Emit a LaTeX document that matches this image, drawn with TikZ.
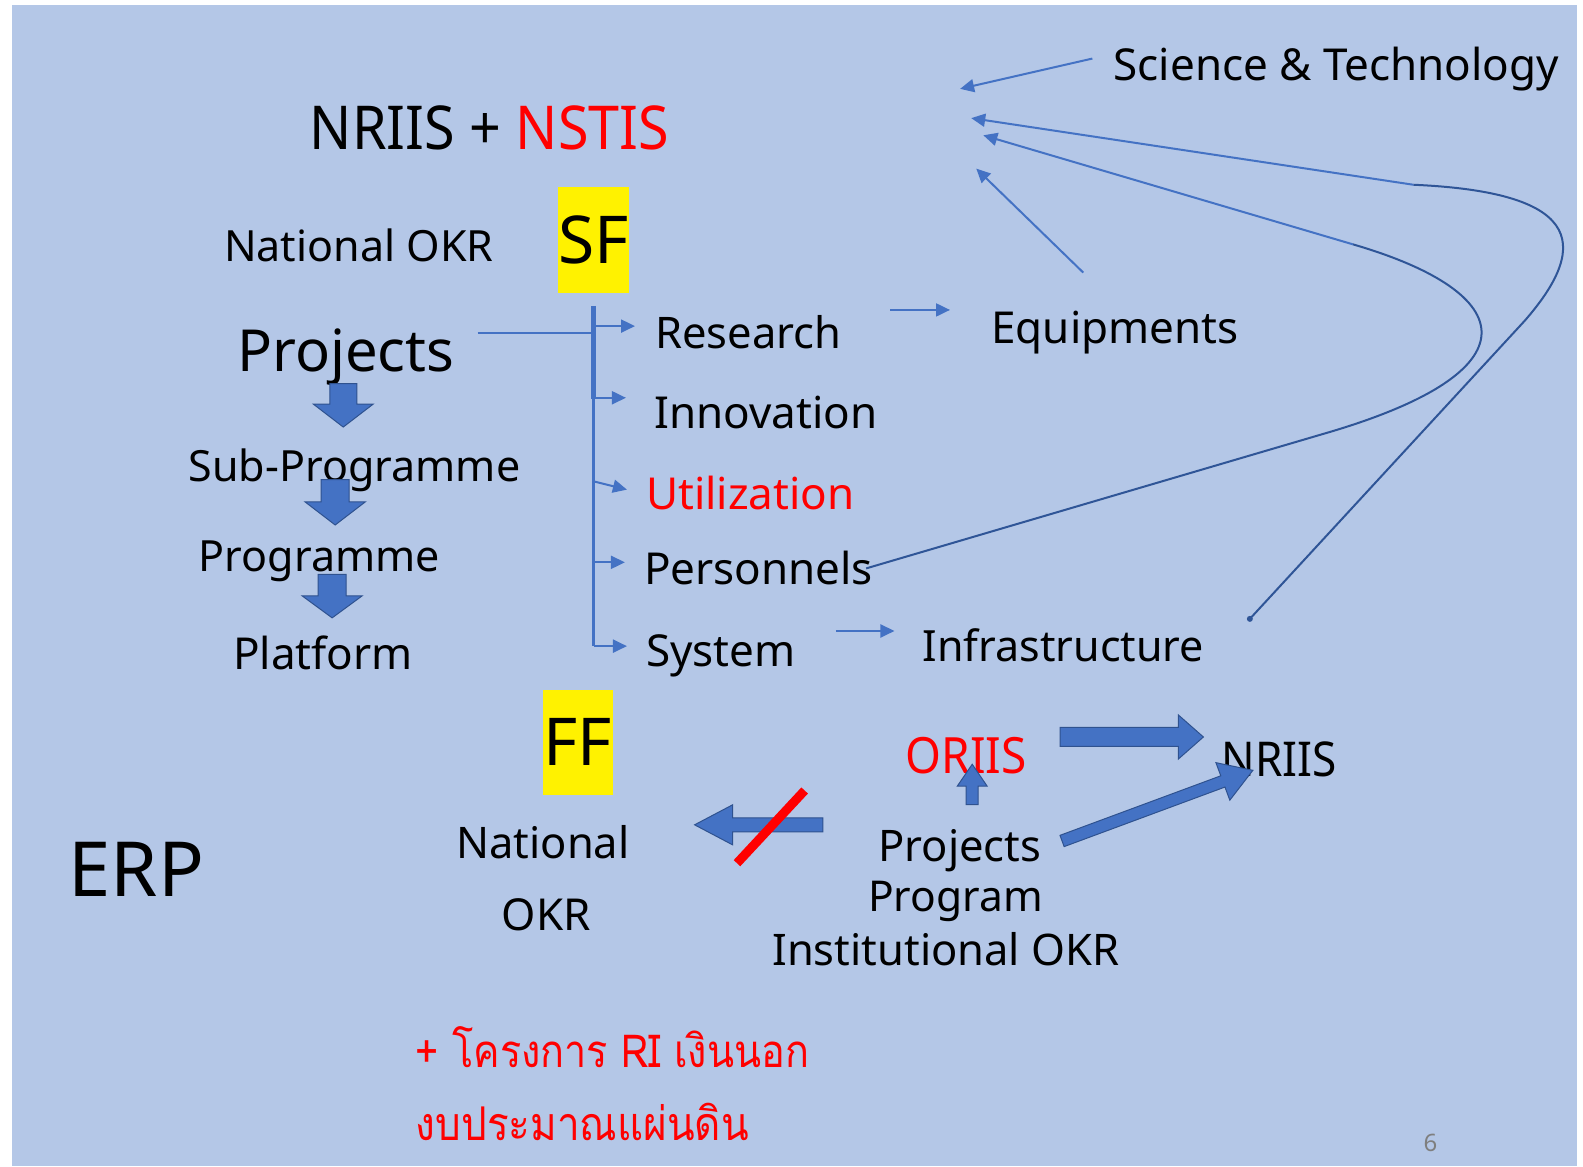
\documentclass[tikz,border=0pt]{standalone}
\usepackage{fontspec}
\setmainfont{Noto Sans}
\newfontfamily\narrowfont[FakeStretch=0.92]{Noto Sans}
\newfontfamily\thaifont[Script=Thai,FakeStretch=0.87]{Loma}
\usetikzlibrary{arrows.meta,calc}
\definecolor{bg}{HTML}{B4C7E7}
\definecolor{ablue}{HTML}{4472C4}
\definecolor{dblue}{HTML}{2F5597}
\definecolor{oblue}{HTML}{2F528F}
\definecolor{pnum}{HTML}{7F7F7F}
\newcommand\fs[1]{\fontsize{#1}{#1}\selectfont}
% block arrow: #1 tail, #2 tip, #3 shaft half width, #4 head half width, #5 head length
\newcommand\blockarrow[5]{%
  \coordinate (bh) at ($(#2)!#5!(#1)$);
  \path[blockarr] ($(#1)!#3!90:(#2)$) -- ($(bh)!#3!-90:(#1)$) -- ($(bh)!#4!-90:(#1)$) -- (#2)
     -- ($(bh)!#4!90:(#1)$) -- ($(bh)!#3!90:(#1)$) -- ($(#1)!#3!-90:(#2)$) -- cycle;}
\begin{document}
\begin{tikzpicture}[x=1.0096pt,y=-1.0096pt,
  txt/.style={anchor=base west, inner sep=0pt, outer sep=0pt},
  ybox/.style={fill=yellow, inner sep=0pt, text depth=0pt},
  thin/.style={draw=ablue, line width=2pt, -{Triangle[length=14pt,width=13pt]}},
  curv/.style={draw=dblue, line width=2pt},
  blockarr/.style={fill=ablue, draw=oblue, line width=1pt, line join=miter}]
\useasboundingbox (0,0) rectangle (1568,1155);
\fill[bg] (11.9,5) rectangle (1562,1155);

% ---- top texts
\node[txt, font=\narrowfont\fs{60.5}] (title) at (307,148) {NRIIS + \textcolor{red}{NSTIS}};
\node[txt, font=\fs{44}] (st) at (1103,80) {Science \& Technology};
\node[txt, font=\fs{43}] (nokr) at (222,259) {National OKR};
\node[ybox, minimum width=70.7pt, minimum height=106pt, font=\fs{66}] (sf) at (588,237.5) {SF};
\node[txt, font=\fs{58}] (proj) at (235,368) {Projects};
\node[txt, font=\fs{43}] (subp) at (187,477) {Sub-Programme};
\node[txt, font=\fs{43}] (prog) at (197,566) {Programme};
\node[txt, font=\fs{44}] (plat) at (231,663) {Platform};

\node[txt, font=\fs{43.5}] (res) at (649,345) {Research};
\node[txt, font=\fs{44}] (inn) at (648,424) {Innovation};
\node[txt, font=\fs{44}, text=red] (util) at (640,505) {Utilization};
\node[txt, font=\fs{44}] (pers) at (638,579) {Personnels};
\node[txt, font=\fs{44}] (sys) at (640,660) {System};
\node[txt, font=\fs{44}] (equip) at (982,340) {Equipments};
\node[txt, font=\fs{43}] (infra) at (914,655) {Infrastructure};

% ---- down block arrows
\coordinate (d1a) at (340,380); \coordinate (d1b) at (340,423);
\coordinate (d2a) at (332,475); \coordinate (d2b) at (332,520);
\coordinate (d3a) at (329,569); \coordinate (d3b) at (329,612);
\blockarrow{d1a}{d1b}{13.5pt}{30pt}{23pt}
\blockarrow{d2a}{d2b}{14pt}{30pt}{23pt}
\blockarrow{d3a}{d3b}{14pt}{30pt}{22pt}

% ---- bracket
\coordinate (btop) at (588,303);
\coordinate (bmid) at (588,395);
\coordinate (bbot) at (588,640);
\draw[ablue, line width=5pt] (btop) -- (bmid);
\draw[ablue, line width=3pt] (bmid) -- (bbot);
\coordinate (pl) at (473,330);
\coordinate (pr) at (590,330);
\draw[ablue, line width=1.5pt] (pl) -- (pr);
\coordinate (a1) at (588,323); \coordinate (a1t) at (629,323);
\coordinate (a2) at (588,394); \coordinate (a2t) at (620,394);
\coordinate (a3) at (589,477); \coordinate (a3t) at (621,485);
\coordinate (a4) at (588,557); \coordinate (a4t) at (619,557);
\coordinate (a5t) at (621,640);
\draw[thin] (a1) -- (a1t);
\draw[thin] (a2) -- (a2t);
\draw[thin] (a3) -- (a3t);
\draw[thin] (a4) -- (a4t);
\draw[thin] (bbot) -- (a5t);

% ---- small arrows to Equipments / Infrastructure
\coordinate (e1) at (882,307); \coordinate (e2) at (941,307);
\draw[thin] (e1) -- (e2);
\coordinate (i1) at (828,625); \coordinate (i2) at (886,625);
\draw[thin] (i1) -- (i2);

% ---- arrows to the top focus
\coordinate (s1) at (1082,58); \coordinate (s2) at (951,88);
\draw[thin] (s1) -- (s2);
\coordinate (q1) at (1073,270); \coordinate (q2) at (967,167);
\draw[thin] (q1) -- (q2);

% curve from Infrastructure
\coordinate (c1s) at (1238,613);
\coordinate (c1m) at (1400,183);
\coordinate (c1t) at (962,117);
\draw[curv] (c1s) -- (1510,318) .. controls (1580,238) and (1560,190) .. (c1m);
\draw[thin] (c1m) -- (c1t);
\fill[dblue] (c1s) circle (3pt);

% curve from Personnels
\coordinate (c2s) at (858,563);
\coordinate (c2m) at (1340,242);
\coordinate (c2t) at (974,134);
\draw[curv] (c2s) -- (1310,430) .. controls (1525,368) and (1505,290) .. (c2m);
\draw[thin] (c2m) -- (c2t);

% ---- lower part
\node[ybox, minimum width=69.7pt, minimum height=105pt, font=\fs{66}] (ff) at (572.5,735) {FF};
\node[txt, font=\fs{76}] (erp) at (68,888) {ERP};
\node[txt, font=\fs{43.5}] (nat) at (452,850) {National};
\node[txt, font=\fs{44}] (okr) at (497,922) {OKR};
\node[txt, font=\narrowfont\fs{50}, text=red] (oriis) at (897,766) {ORIIS};
\node[txt, font=\narrowfont\fs{48}] (nriis) at (1210,769) {NRIIS};
\node[txt, font=\fs{43.5}] (p1) at (870,853) {Projects};
\node[txt, font=\fs{42.5}] (p2) at (860,903) {Program};
\node[txt, font=\fs{43.5}] (p3) at (765,956) {Institutional OKR};

\coordinate (la) at (815,817); \coordinate (lb) at (688,817);
\blockarrow{la}{lb}{7pt}{20pt}{38pt}
\coordinate (x1) at (730,855); \coordinate (x2) at (797,783);
\draw[red, line width=9pt] (x1) -- (x2);

\coordinate (ua) at (963,797); \coordinate (ub) at (963,757);
\blockarrow{ua}{ub}{6pt}{15pt}{22pt}
\coordinate (ra) at (1050,730); \coordinate (rb) at (1192,730);
\blockarrow{ra}{rb}{9.5pt}{22pt}{25pt}
\coordinate (ga) at (1052,833); \coordinate (gb) at (1241,763);
\blockarrow{ga}{gb}{6pt}{20pt}{32pt}

% ---- Thai text
\node[txt, font=\thaifont\fs{45.5}, text=red] (th1) at (412,1057) {+ โครงการ RI เงินนอก};
\node[txt, font=\thaifont\fs{46.5}, text=red] (th2) at (412,1130) {งบประมาณแผ่นดิน};

\node[txt, font=\fs{24}, text=pnum] (pg) at (1410,1141) {6};
\end{tikzpicture}
\end{document}
